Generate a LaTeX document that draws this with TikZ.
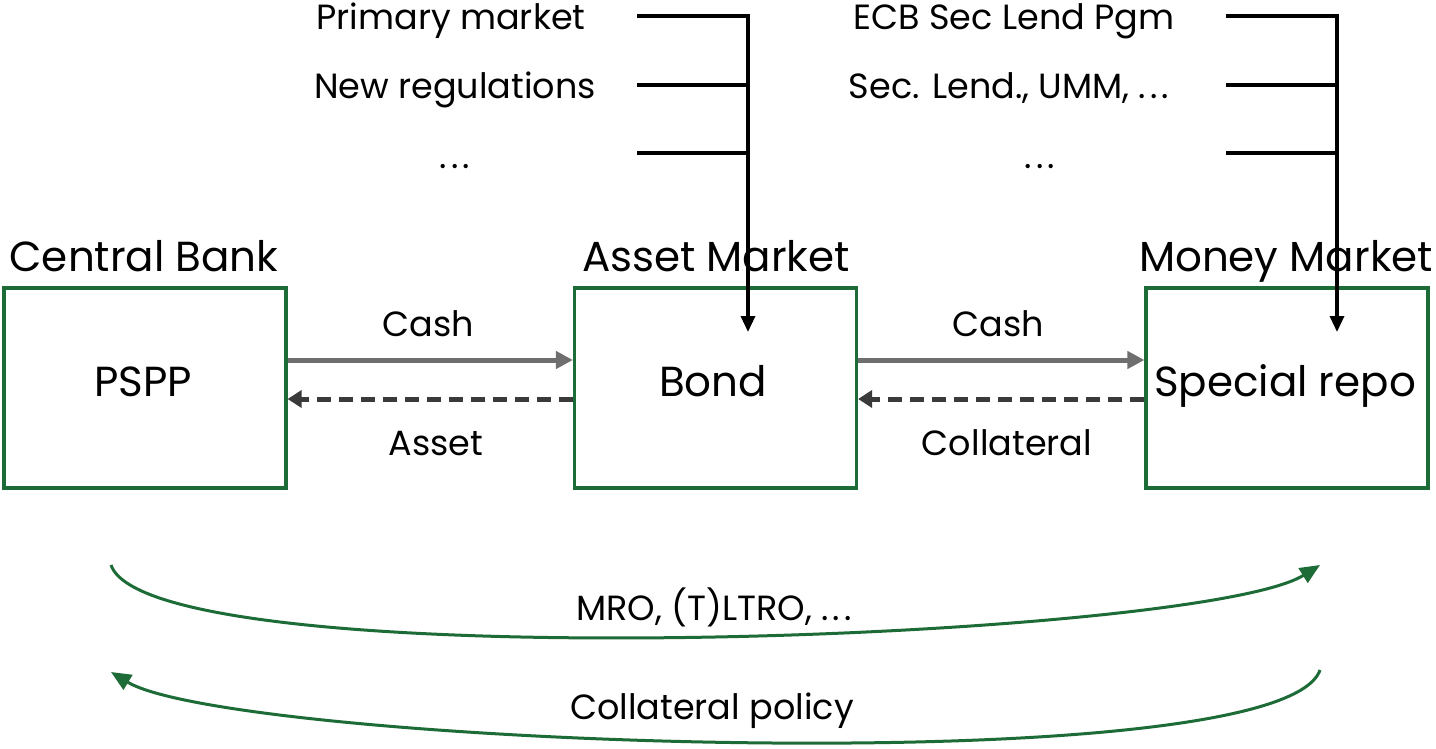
\documentclass[tikz,border=0pt]{standalone}
\usepackage{fontspec}
\setmainfont{Poppins}
\usetikzlibrary{arrows.meta}
\definecolor{bgreen}{HTML}{1D6B36}
\definecolor{cashgray}{HTML}{6E6E6E}
\definecolor{dashgray}{HTML}{3A3A3A}
\begin{document}
\begin{tikzpicture}[x=1pt,y=-1pt,
  box/.style={draw=bgreen, line width=3.2pt, minimum width=282pt, minimum height=200pt, inner sep=0pt},
  bigtext/.style={font=\fontsize{42}{48}\selectfont, anchor=base, inner sep=0pt},
  smalltext/.style={font=\fontsize{35}{40}\selectfont, anchor=base, inner sep=0pt},
  cashline/.style={draw=cashgray, line width=5pt, -{Triangle[length=17pt,width=17pt]}},
  backline/.style={draw=dashgray, line width=5pt, dash pattern=on 14pt off 8pt, -{Triangle[length=14pt,width=17pt]}},
  feed/.style={draw=black, line width=3.3pt},
  feedarrow/.style={draw=black, line width=3.3pt, -{Triangle[length=16pt,width=14pt]}},
  policy/.style={draw=bgreen, line width=3pt, -{Triangle[length=20pt,width=17pt]}}]
\useasboundingbox (0,0) rectangle (1436,749);

% boxes
\node[box] (cb) at (145,388) {};
\node[box] (am) at (715.5,388) {};
\node[box] (mm) at (1287,388) {};

% titles
\node[bigtext] (cbt) at (144,271) {Central Bank};
\node[bigtext] (amt) at (716,271) {Asset Market};
\node[bigtext] (mmt) at (1286,271) {Money Market};

% box contents
\node[bigtext] (cbx) at (143,396) {PSPP};
\node[bigtext] (amx) at (713,396) {Bond};
\node[bigtext] (mmx) at (1285,396) {Special repo};

% flows
\coordinate (c1s) at (cb.east |- 0,360);
\coordinate (c1e) at (am.west |- 0,360);
\coordinate (a1s) at (am.west |- 0,399);
\coordinate (a1e) at (cb.east |- 0,399);
\draw[cashline] (c1s) -- (c1e);
\draw[backline] (a1s) -- (a1e);
\node[smalltext] (cash1) at (428,336) {Cash};
\node[smalltext] (asset1) at (436,455) {Asset};

\coordinate (c2s) at (am.east |- 0,360);
\coordinate (c2e) at (mm.west |- 0,360);
\coordinate (a2s) at (mm.west |- 0,399);
\coordinate (a2e) at (am.east |- 0,399);
\draw[cashline] (c2s) -- (c2e);
\draw[backline] (a2s) -- (a2e);
\node[smalltext] (cash2) at (998,336) {Cash};
\node[smalltext] (coll2) at (1007,455) {Collateral};

% top feeds, asset market
\node[smalltext] (f1) at (451,30) {Primary market};
\node[smalltext] (f2) at (455,99) {New regulations};
\node[smalltext] (f3) at (455,168) {.\kern4pt.\kern4pt.};
\coordinate (f1a) at (637,16);
\coordinate (f2a) at (637,85);
\coordinate (f3a) at (637,153);
\coordinate (k1) at (748,16);
\coordinate (k2) at (748,85);
\coordinate (k3) at (748,153);
\coordinate (tip1) at (748,332);
\draw[feed] (f2a) -- (k2);
\draw[feed] (f3a) -- (k3);
\draw[feedarrow] (f1a) -- (k1) -- (tip1);

% top feeds, money market
\node[smalltext] (g1) at (1014,30) {ECB Sec Lend Pgm};
\node[smalltext] (g2) at (1009,99) {Sec. Lend., UMM, .\kern4pt.\kern4pt.};
\node[smalltext] (g3) at (1040,168) {.\kern4pt.\kern4pt.};
\coordinate (g1a) at (1226,16);
\coordinate (g2a) at (1226,85);
\coordinate (g3a) at (1226,153);
\coordinate (h1) at (1337,16);
\coordinate (h2) at (1337,85);
\coordinate (h3) at (1337,153);
\coordinate (tip2) at (1337,332);
\draw[feed] (g2a) -- (h2);
\draw[feed] (g3a) -- (h3);
\draw[feedarrow] (g1a) -- (h1) -- (tip2);

% policy arcs
\coordinate (p1s) at (111,565);
\coordinate (p1e) at (1320,565);
\coordinate (p2s) at (1320,670);
\coordinate (p2e) at (111,672);
\draw[policy] (p1s) .. controls (150,680) and (1200,640) .. (p1e);
\draw[policy] (p2s) .. controls (1281,785) and (231,745) .. (p2e);
\node[smalltext] (mro) at (714,620) {MRO, (T)LTRO, .\kern4pt.\kern4pt.};
\node[smalltext] (cp) at (712,719) {Collateral policy};
\end{tikzpicture}
\end{document}
